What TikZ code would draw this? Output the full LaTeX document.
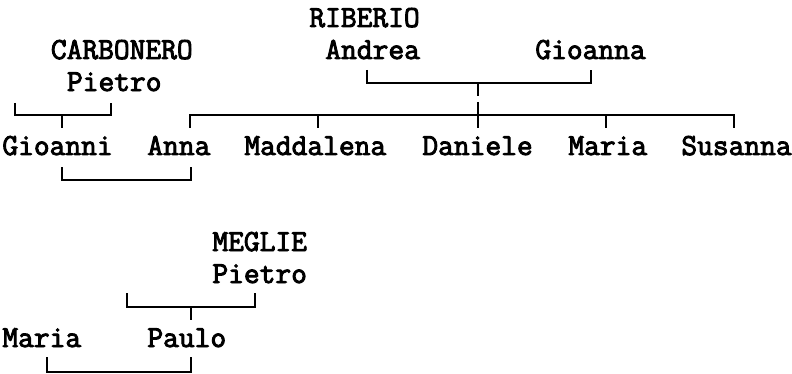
\documentclass[tikz,border=0pt]{standalone}
\usepackage{fontspec}
\newfontfamily\treefont[FakeBold=3]{Latin Modern Mono}

\begin{document}
\begin{tikzpicture}[x=0.5pt,y=-0.5pt,
    person/.style={inner sep=0pt,anchor=base west,xshift=1pt,
      font=\treefont\fontsize{15.3}{16}\selectfont},
    link/.style={line width=1pt}]
  \useasboundingbox (0,0) rectangle (792,374);
  % upper tree
  \node[person] (riberio) at (307,27) {RIBERIO};
  \node[person] (carbonero) at (48.5,59) {CARBONERO};
  \node[person] (andrea) at (323,59) {Andrea};
  \node[person] (gioanna) at (533,59) {Gioanna};
  \node[person] (pietroc) at (64.6,91) {Pietro};
  \node[person] (gioanni) at (0,155) {Gioanni};
  \node[person] (anna) at (145,155) {Anna};
  \node[person] (maddalena) at (242,155) {Maddalena};
  \node[person] (daniele) at (420,155) {Daniele};
  \node[person] (mariar) at (566,155) {Maria};
  \node[person] (susanna) at (679,155) {Susanna};
  % lower tree
  \node[person] (meglie) at (210,251) {MEGLIE};
  \node[person] (pietrom) at (210,283) {Pietro};
  \node[person] (maria) at (0,347) {Maria};
  \node[person] (paulo) at (145,347) {Paulo};

  \coordinate (c1) at (15,103);
  \coordinate (c2) at (111,103);
  \coordinate (c3) at (62,115);
  \coordinate (r1) at (367,70);
  \coordinate (r2) at (591,70);
  \coordinate (r3) at (478,83);
  \coordinate (r4) at (478,96);
  \coordinate (r5) at (478,102);
  \coordinate (s1) at (190,115);
  \coordinate (s2) at (734,115);
  \coordinate (m1) at (62,167);
  \coordinate (m2) at (191,167);
  \coordinate (p1) at (127,293);
  \coordinate (p2) at (255,293);
  \coordinate (p3) at (191,307);
  \coordinate (w1) at (47,357);
  \coordinate (w2) at (191,357);

  \draw[link] (c1) |- (c3) -| (c2);
  \draw[link] (c3) -- ++(0,13);
  \draw[link] (r1) |- (r3) -| (r2);
  \draw[link] (r3) -- (r4);
  \draw[link] (r5) -- ++(0,26);
  \draw[link] (s1) ++(0,13) |- (s2) -- ++(0,13);
  \draw[link] (318,115) -- ++(0,13);
  \draw[link] (606,115) -- ++(0,13);
  \draw[link] (m1) -- ++(0,13) -| (m2);
  \draw[link] (p1) |- (p3) -| (p2);
  \draw[link] (p3) -- ++(0,13);
  \draw[link] (w1) -- ++(0,15) -| (w2);
\end{tikzpicture}
\end{document}
